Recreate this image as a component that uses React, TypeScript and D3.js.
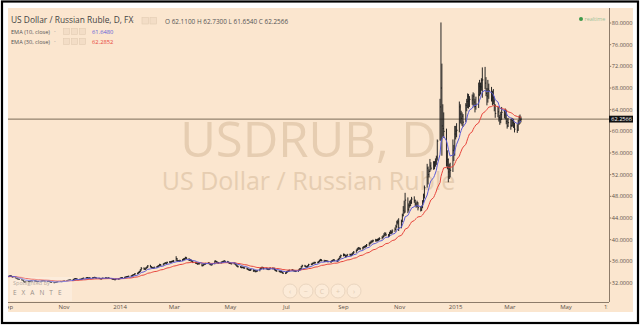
import React from 'react';
import * as d3 from 'd3';

// ---- Daily bars [high, low, close], one array per month (weekdays in order) ----
const aug2013 = [[33.15,32.92,33.05],[33.18,32.98,33.10],[33.17,32.97,33.05],[33.24,33.00,33.15],[33.29,33.08,33.20],[33.25,32.93,33.00],[33.08,32.87,32.95],[33.02,32.82,32.90],[33.03,32.85,32.95],[33.12,32.90,33.05],[33.23,33.00,33.15],[33.22,33.02,33.10],[33.32,33.05,33.25],[33.33,33.12,33.20],[33.38,33.14,33.30],[33.37,33.17,33.25],[33.30,33.08,33.15],[33.28,33.09,33.20],[33.44,33.15,33.35],[33.50,33.28,33.40],[33.45,33.22,33.30],[33.35,33.08,33.15]];
const sep2013 = [[33.33,33.10,33.25],[33.40,33.18,33.30],[33.42,33.20,33.30],[33.35,33.08,33.15],[33.22,32.98,33.05],[33.10,32.88,32.95],[33.00,32.78,32.85],[32.92,32.68,32.75],[32.84,32.62,32.70],[32.78,32.58,32.65],[32.72,32.48,32.55],[32.63,32.42,32.50],[32.56,32.18,32.25],[32.32,32.05,32.15],[32.33,32.10,32.25],[32.38,32.18,32.30],[32.37,32.17,32.25],[32.42,32.19,32.35],[32.48,32.28,32.40],[32.47,32.27,32.35],[32.50,32.28,32.40]];
const oct2013 = [[32.48,32.27,32.35],[32.42,32.22,32.30],[32.37,32.17,32.25],[32.38,32.18,32.30],[32.43,32.22,32.35],[32.48,32.28,32.40],[32.55,32.33,32.45],[32.53,32.32,32.40],[32.47,32.27,32.35],[32.42,32.22,32.30],[32.44,32.23,32.35],[32.43,32.22,32.30],[32.36,32.08,32.15],[32.22,32.02,32.10],[32.17,31.97,32.05],[32.18,31.98,32.10],[32.23,32.03,32.15],[32.28,32.08,32.20],[32.33,32.13,32.25],[32.38,32.18,32.30],[32.37,32.17,32.25],[32.38,32.18,32.30],[32.43,32.22,32.35]];
const nov2013 = [[32.48,32.27,32.40],[32.53,32.32,32.45],[32.58,32.37,32.50],[32.63,32.42,32.55],[32.68,32.47,32.60],[32.68,32.47,32.55],[32.73,32.48,32.65],[32.83,32.57,32.75],[32.90,32.67,32.80],[32.88,32.67,32.75],[32.83,32.62,32.70],[32.78,32.57,32.65],[32.78,32.58,32.70],[32.83,32.62,32.75],[32.93,32.68,32.85],[32.98,32.77,32.90],[33.03,32.82,32.95],[33.08,32.87,33.00],[33.05,32.82,32.90],[33.03,32.83,32.95],[33.02,32.82,32.90]];
const dec2013 = [[33.03,32.83,32.95],[33.08,32.88,33.00],[33.13,32.93,33.05],[33.10,32.88,32.95],[33.02,32.82,32.90],[32.97,32.77,32.85],[32.92,32.72,32.80],[32.87,32.67,32.75],[32.93,32.68,32.85],[32.98,32.77,32.90],[33.03,32.82,32.95],[33.03,32.82,32.90],[32.97,32.77,32.85],[33.03,32.78,32.95],[33.00,32.78,32.85],[32.92,32.68,32.75],[32.82,32.62,32.70],[32.77,32.58,32.65],[32.72,32.52,32.60],[32.78,32.53,32.70],[32.83,32.62,32.75],[32.88,32.67,32.80]];
const jan2014 = [[32.98,32.75,32.90],[33.05,32.83,32.95],[33.10,32.88,33.00],[33.15,32.92,33.05],[33.20,32.97,33.10],[33.25,33.02,33.15],[33.30,33.07,33.20],[33.35,33.12,33.25],[33.40,33.17,33.30],[33.50,33.22,33.40],[33.62,33.32,33.50],[33.66,33.40,33.55],[33.82,33.45,33.70],[33.92,33.60,33.80],[34.08,33.72,33.95],[34.25,33.85,34.10],[34.55,34.00,34.40],[34.95,34.30,34.70],[34.90,34.45,34.60],[34.75,34.40,34.55],[34.90,34.45,34.75],[35.05,34.65,34.90],[35.30,34.80,35.15]];
const feb2014 = [[35.35,34.88,35.00],[35.12,34.72,34.85],[34.98,34.68,34.80],[34.92,34.62,34.75],[35.02,34.65,34.90],[35.12,34.80,35.00],[35.22,34.90,35.10],[35.33,35.00,35.20],[35.55,35.10,35.40],[35.50,35.18,35.30],[35.62,35.22,35.50],[35.72,35.40,35.60],[35.85,35.50,35.70],[35.85,35.52,35.65],[35.95,35.55,35.80],[36.05,35.70,35.90],[36.02,35.72,35.85],[36.10,35.75,35.95],[36.15,35.85,36.00],[36.25,35.88,36.05]];
const mar2014 = [[36.95,36.05,36.50],[36.60,35.95,36.10],[36.25,35.92,36.05],[36.22,35.88,36.00],[36.30,35.92,36.15],[36.45,36.05,36.30],[36.55,36.18,36.40],[36.62,36.28,36.45],[36.85,36.35,36.70],[36.82,36.42,36.55],[36.60,36.05,36.20],[36.45,36.08,36.30],[36.40,35.98,36.10],[36.25,35.88,36.00],[36.10,35.68,35.80],[35.92,35.58,35.70],[35.85,35.52,35.65],[35.75,35.38,35.50],[35.72,35.40,35.60],[35.72,35.42,35.55],[35.62,35.08,35.20]];
const apr2014 = [[35.42,35.08,35.30],[35.58,35.20,35.45],[35.63,35.35,35.50],[35.72,35.40,35.60],[35.85,35.50,35.70],[35.80,35.43,35.55],[35.65,35.28,35.40],[35.52,35.22,35.35],[35.65,35.25,35.50],[36.15,35.45,36.00],[36.20,35.82,35.95],[36.05,35.68,35.80],[35.95,35.62,35.75],[35.88,35.58,35.70],[35.95,35.60,35.80],[36.05,35.70,35.90],[36.10,35.78,35.95],[36.20,35.85,36.05],[36.18,35.82,35.95],[36.08,35.72,35.85],[35.98,35.62,35.75],[35.88,35.52,35.65]];
const may2014 = [[35.78,35.48,35.60],[35.72,35.42,35.55],[35.80,35.45,35.65],[35.75,35.38,35.50],[35.60,35.18,35.30],[35.40,34.98,35.10],[35.22,34.88,35.00],[35.12,34.82,34.95],[35.05,34.72,34.85],[35.02,34.75,34.90],[35.00,34.68,34.80],[34.92,34.62,34.75],[34.85,34.48,34.60],[34.72,34.38,34.50],[34.62,34.28,34.40],[34.52,34.22,34.35],[34.58,34.25,34.45],[34.55,34.08,34.20],[34.42,34.10,34.30],[34.40,33.98,34.10],[34.32,34.00,34.20],[34.38,34.08,34.25]];
const jun2014 = [[34.68,34.15,34.55],[34.90,34.42,34.75],[35.00,34.62,34.85],[35.00,34.68,34.80],[34.92,34.52,34.65],[34.85,34.52,34.70],[34.80,34.42,34.55],[34.68,34.38,34.50],[34.72,34.38,34.60],[34.88,34.48,34.75],[34.88,34.52,34.65],[34.82,34.52,34.70],[34.80,34.32,34.45],[34.58,34.18,34.30],[34.42,34.08,34.20],[34.32,34.02,34.15],[34.28,33.92,34.05],[34.22,33.92,34.10],[34.22,33.82,33.95],[34.08,33.68,33.80],[33.98,33.65,33.85]];
const jul2014 = [[34.18,33.75,34.05],[34.28,33.92,34.15],[34.38,34.02,34.25],[34.48,34.12,34.35],[34.55,34.22,34.40],[34.52,34.18,34.30],[34.42,34.12,34.25],[34.38,34.08,34.20],[34.32,34.02,34.15],[34.48,34.05,34.35],[34.70,34.22,34.55],[34.75,34.42,34.60],[35.15,34.48,35.00],[35.38,34.88,35.20],[35.35,34.98,35.10],[35.25,34.88,35.00],[35.12,34.82,34.95],[35.28,34.85,35.15],[35.55,35.05,35.40],[35.60,35.28,35.45],[35.75,35.32,35.60],[35.80,35.48,35.65],[35.92,35.52,35.75]];
const aug2014 = [[35.92,35.58,35.75],[35.95,35.62,35.80],[36.10,35.68,35.95],[36.32,35.82,36.15],[36.45,36.02,36.20],[36.40,36.00,36.15],[36.28,35.88,36.00],[36.25,35.90,36.10],[36.22,35.92,36.05],[36.18,35.88,36.00],[36.15,35.82,35.95],[36.08,35.78,35.90],[36.18,35.80,36.05],[36.30,35.92,36.15],[36.40,36.02,36.25],[36.38,36.02,36.15],[36.28,35.88,36.00],[36.45,35.92,36.30],[36.65,36.18,36.50],[37.00,36.38,36.80],[37.25,36.65,37.05]];
const sep2014 = [[37.45,36.92,37.25],[37.40,36.98,37.15],[37.25,36.65,36.90],[37.18,36.75,37.00],[37.38,36.88,37.20],[37.42,37.05,37.25],[37.38,36.95,37.10],[37.48,36.98,37.30],[37.68,37.18,37.50],[37.90,37.38,37.70],[38.20,37.58,38.00],[38.45,37.88,38.25],[38.65,38.10,38.45],[38.62,38.18,38.35],[38.52,38.12,38.30],[38.68,38.15,38.50],[38.82,38.35,38.65],[38.90,38.48,38.70],[39.00,38.55,38.80],[39.20,38.65,39.00],[39.52,38.85,39.30],[39.68,39.12,39.45]];
const oct2014 = [[39.85,39.28,39.60],[39.92,39.42,39.70],[40.02,39.52,39.80],[40.15,39.62,39.90],[40.10,39.65,39.85],[40.18,39.68,39.95],[40.28,39.78,40.05],[40.45,39.90,40.20],[40.65,40.05,40.40],[40.85,40.22,40.60],[41.20,40.45,40.90],[41.40,40.70,41.10],[41.30,40.65,40.90],[41.05,40.45,40.70],[41.45,40.55,41.20],[41.75,41.00,41.45],[41.70,41.05,41.30],[41.90,41.15,41.60],[42.25,41.40,41.90],[42.75,41.70,42.40],[43.50,42.20,43.20],[43.70,42.80,43.30],[43.95,41.60,42.20]];
const nov2014 = [[43.70,42.10,43.40],[44.80,43.20,44.50],[46.20,44.30,45.40],[47.20,44.80,45.10],[48.65,45.00,47.30],[47.80,44.90,45.60],[46.70,45.20,46.30],[47.20,45.90,46.80],[47.40,46.20,46.90],[47.90,46.60,47.50],[48.00,46.80,47.20],[47.40,46.20,46.60],[46.90,45.90,46.30],[47.20,46.00,46.80],[46.90,45.40,45.90],[46.20,45.20,45.50],[46.30,45.30,46.00],[47.30,45.80,47.00],[48.50,46.80,48.10],[50.00,47.60,49.60]];
const dec2014 = [[54.00,49.60,53.20],[53.50,50.20,52.00],[53.00,51.50,52.60],[54.90,52.50,53.60],[54.30,52.80,53.20],[54.50,52.90,54.20],[54.50,53.00,53.60],[55.00,53.50,54.40],[55.50,53.80,55.10],[58.50,54.60,58.20],[66.00,58.30,64.50],[80.10,58.20,68.00],[72.50,55.50,61.00],[65.00,59.00,60.50],[63.50,58.80,60.00],[60.50,53.50,54.50],[56.50,53.00,54.80],[55.00,50.60,52.50],[54.00,51.20,53.00],[54.20,51.50,52.80],[58.50,52.50,56.50],[57.50,54.50,55.80],[61.00,55.50,59.50]];
const jan2015 = [[61.00,58.50,60.00],[61.50,58.90,60.20],[65.50,59.80,64.50],[65.00,61.50,63.20],[63.80,61.30,62.40],[63.50,61.00,62.80],[63.20,60.80,61.70],[65.20,61.70,64.80],[66.00,63.70,65.50],[67.00,64.30,66.40],[66.90,64.20,65.60],[66.50,64.50,65.90],[66.80,64.90,65.80],[67.20,64.70,66.50],[67.00,64.40,65.40],[66.00,63.50,64.60],[66.40,64.00,65.00],[69.00,64.30,66.80],[69.50,66.50,68.30],[69.00,66.80,68.20],[69.80,67.50,69.40],[71.80,66.20,69.50]];
const feb2015 = [[71.90,67.80,68.90],[70.00,66.50,67.00],[68.00,64.80,66.50],[69.50,65.30,67.80],[68.80,66.00,67.50],[68.20,65.50,66.00],[67.50,64.80,66.30],[67.80,65.00,65.60],[66.40,63.70,64.80],[65.00,62.50,63.30],[64.60,62.60,63.60],[64.50,61.80,62.50],[63.00,61.20,62.20],[63.60,61.50,63.10],[64.50,62.10,63.50],[64.00,62.40,63.00],[64.20,62.20,63.80],[64.00,61.30,61.80],[62.40,60.50,61.00],[62.50,60.80,61.60]];
const mar2015 = [[62.30,60.30,61.10],[62.50,60.80,62.00],[62.40,60.90,61.60],[62.30,60.60,61.00],[61.60,59.80,60.40],[61.30,59.70,60.20],[62.10,60.10,61.60],[62.90,61.20,62.60],[63.10,61.40,62.10],[62.73,61.654,62.2566]];

const monthStarts = ['2013-08','2013-09','2013-10','2013-11','2013-12','2014-01','2014-02','2014-03','2014-04','2014-05','2014-06','2014-07','2014-08','2014-09','2014-10','2014-11','2014-12','2015-01','2015-02','2015-03'];
const monthBars = [aug2013,sep2013,oct2013,nov2013,dec2013,jan2014,feb2014,mar2014,apr2014,may2014,jun2014,jul2014,aug2014,sep2014,oct2014,nov2014,dec2014,jan2015,feb2015,mar2015];

const priceTicks = [32,36,40,44,48,52,56,60,64,68,72,76,80];
const timeTickDates = ['2013-09-01','2013-11-01','2014-01-01','2014-03-01','2014-05-01','2014-07-01','2014-09-01','2014-11-01','2015-01-01','2015-03-01','2015-05-01','2015-06-15'];
const timeTickLabels = ['Sep','Nov','2014','Mar','May','Jul','Sep','Nov','2015','Mar','May','15'];

const titleText = 'US Dollar / Russian Ruble, D, FX';
const ohlcText = 'O 62.1100 H 62.7300 L 61.6540 C 62.2566';
const emaLegend = [
  { label: 'EMA (10, close)', value: '61.6480', period: 10 },
  { label: 'EMA (30, close)', value: '62.2852', period: 30 },
];

const BG = '#FBE6CF';
const BLUE = '#5b5bd8';
const RED = '#e8453c';
const FONT = "'Open Sans', 'DejaVu Sans', sans-serif";

function buildBars() {
  const out: { date: Date; h: number; l: number; c: number }[] = [];
  monthStarts.forEach((ms, i) => {
    const [y, m] = ms.split('-').map(Number);
    const arr = monthBars[i];
    let k = 0;
    for (let d = 1; d <= 31 && k < arr.length; d++) {
      const dt = new Date(y, m - 1, d);
      if (dt.getMonth() !== m - 1) break;
      const wd = dt.getDay();
      if (wd === 0 || wd === 6) continue;
      const [h, l, c] = arr[k++];
      out.push({ date: dt, h, l, c });
    }
  });
  return out;
}

function ema(values: number[], n: number) {
  const a = 2 / (n + 1);
  const res: number[] = [];
  values.forEach((v, i) => res.push(i === 0 ? v : a * v + (1 - a) * res[i - 1]));
  return res;
}

export default function App() {
  const W = 640, H = 325;
  const px0 = 8, px1 = 609, py0 = 8, py1 = 302, panelR = 633, panelB = 312;
  const bars = buildBars();
  const x = d3.scaleTime().domain([new Date(2013, 10, 1), new Date(2015, 4, 1)]).range([64, 566]);
  const y = d3.scaleLinear().domain([32, 80]).range([283, 23]);
  const closes = bars.map(b => b.c);
  const emaLines = emaLegend.map(e => ema(closes, e.period));
  const line = d3.line<number>().x((_, i) => x(bars[i].date)).y(v => y(v));
  const last = bars[bars.length - 1];
  const fmt = d3.format('.4f');
  const cx = (px0 + px1) / 2;

  return (
    <svg width={W} height={H} style={{ position: 'absolute', left: 0, top: 0, fontFamily: FONT }}>
      <defs>
        <clipPath id="plotClip"><rect x={px0} y={py0} width={px1 - px0} height={py1 - py0} /></clipPath>
        <clipPath id="timeClip"><rect x={px0} y={py1} width={px1 - px0 - 1.6} height={panelB - py1} /></clipPath>
      </defs>
      <rect x={0} y={0} width={W} height={H} fill="#fff" />
      <rect x={2} y={1.5} width={636} height={321.5} fill="none" stroke="#000" strokeWidth={2.2} />
      <rect x={px0} y={py0} width={panelR - px0} height={panelB - py0} fill={BG} />

      {/* watermark */}
      <text textAnchor="middle" fill="#E6CDB1">
        <tspan x={cx} y={157} fontSize={49}>USDRUB, D</tspan>
        <tspan x={cx} y={190} fontSize={25}>US Dollar / Russian Ruble</tspan>
      </text>

      <g clipPath="url(#plotClip)">
        <line x1={px0} x2={px1} y1={y(last.c)} y2={y(last.c)} stroke="#7a6a58" strokeWidth={1} />
        {bars.map((b, i) => (
          <g key={i} stroke="#1c1c1c" strokeWidth={0.95}>
            <line x1={x(b.date)} x2={x(b.date)} y1={y(b.h)} y2={y(b.l)} />
            <line x1={x(b.date)} x2={x(b.date) + 1} y1={y(b.c)} y2={y(b.c)} />
          </g>
        ))}
        <path d={line(emaLines[1]) || ''} fill="none" stroke={RED} strokeWidth={1} />
        <path d={line(emaLines[0]) || ''} fill="none" stroke={BLUE} strokeWidth={1} />
      </g>

      {/* axes */}
      <line x1={px1 + 0.5} x2={px1 + 0.5} y1={py0} y2={py1} stroke="#8c7b6a" strokeWidth={1} />
      <line x1={px0} x2={px1} y1={py1 + 0.5} y2={py1 + 0.5} stroke="#8c7b6a" strokeWidth={1} />
      {priceTicks.map(v => (
        <g key={v}>
          <line x1={px1} x2={px1 + 2.2} y1={y(v)} y2={y(v)} stroke="#8c7b6a" />
          <text x={px1 + 2.8} y={y(v) + 2} fontSize={5.6} fill="#5a5048">{fmt(v)}</text>
        </g>
      ))}
      <rect x={px1} y={y(last.c) - 3.4} width={panelR - px1} height={6.8} fill="#111" />
      <text x={px1 + 2.3} y={y(last.c) + 2} fontSize={5.6} fill="#fff">{fmt(last.c)}</text>

      <g clipPath="url(#timeClip)">
        {timeTickDates.map((d, i) => (
          <text key={d} x={x(new Date(d + 'T00:00:00'))} y={309} textAnchor="middle" fontSize={6} fill="#5a5048">{timeTickLabels[i]}</text>
        ))}
      </g>

      {/* header */}
      <text x={11} y={23} fontSize={8.4} fill="#444">{titleText}</text>
      <text x={132} y={22} fontSize={6} fill="#999">-</text>
      {[0, 1].map(i => (
        <rect key={i} x={142 + i * 8} y={17.5} width={6.5} height={6.5} fill="#f3ddc6" stroke="#e2cbb3" strokeWidth={0.6} />
      ))}
      <text x={165} y={23.5} fontSize={6.4} fill="#555">{ohlcText}</text>
      {emaLegend.map((e, i) => (
        <g key={e.label}>
          <text x={11} y={33.5 + i * 10} fontSize={5.6} fill="#555">{e.label}</text>
          <text x={54} y={33 + i * 10} fontSize={5} fill="#999">-</text>
          {[0, 1, 2].map(j => (
            <rect key={j} x={63.5 + j * 8} y={28.5 + i * 10} width={6} height={6} fill="#f3ddc6" stroke="#e2cbb3" strokeWidth={0.6} />
          ))}
          <text x={92} y={33.5 + i * 10} fontSize={5.8} fill={i === 0 ? BLUE : RED}>{e.value}</text>
        </g>
      ))}

      {/* realtime */}
      <circle cx={581} cy={19} r={2} fill="#3c9a4a" />
      <text x={584.5} y={21} fontSize={5.4} fill="#9cc29a">realtime</text>

      {/* nav buttons */}
      {['‹', '−', 'C', '+', '›'].map((s, i) => (
        <g key={i}>
          <circle cx={290 + i * 16} cy={291} r={7} fill="#fcebd8" stroke="#ead5bf" strokeWidth={1} />
          <text x={290 + i * 16} y={293.5} textAnchor="middle" fontSize={7} fill="#e0cab2">{s}</text>
        </g>
      ))}

      {/* logo */}
      <rect x={10} y={277} width={62} height={24} fill="#fff" opacity={0.25} />
      <text x={13} y={285} fontSize={5.5} fill="#b5aaa0">Spotlighted by</text>
      <text x={13} y={295} fontSize={6.5} fill="#9a9089" letterSpacing={5}>EXANTE</text>
    </svg>
  );
}
